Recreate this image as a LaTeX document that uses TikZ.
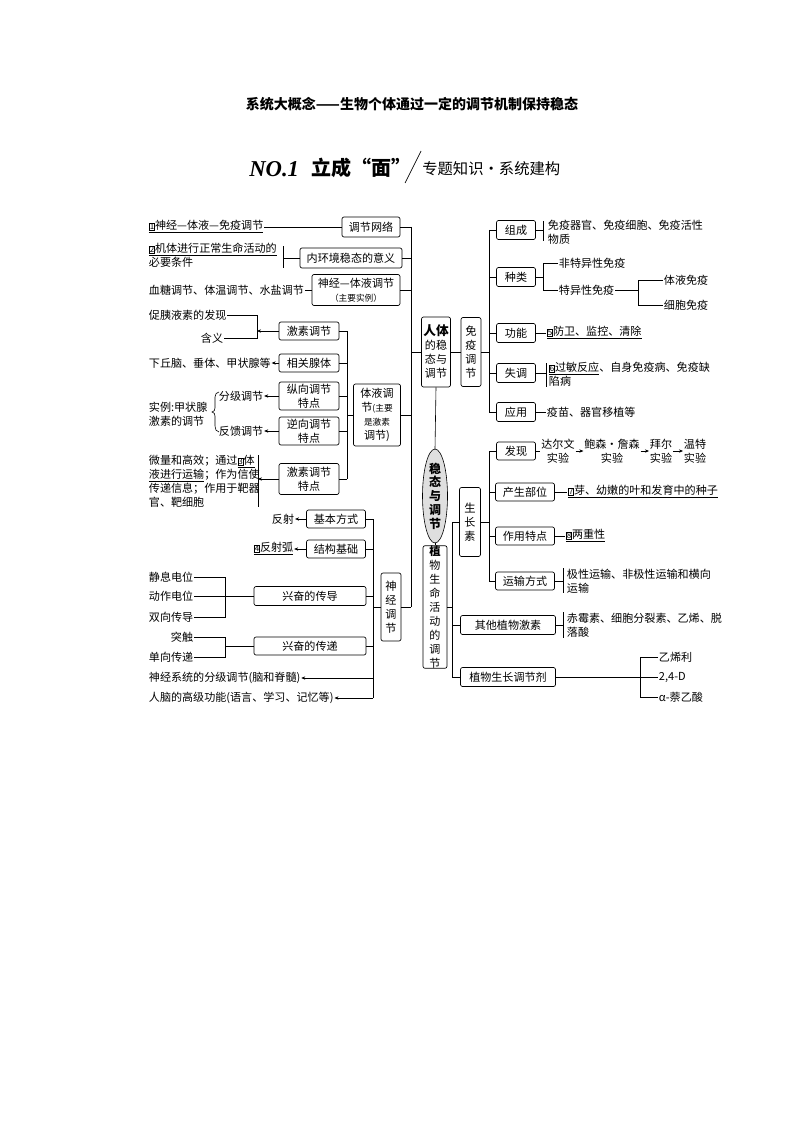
\documentclass[tikz,border=0pt]{standalone}
\usepackage{fontspec}
\setmainfont{Noto Sans CJK SC}
\newfontfamily\tnr{Liberation Serif}
\usetikzlibrary{arrows.meta,shapes.geometric}
\newdimen\px \px=0.75pt
\newcommand\fs{\fontsize{8.3}{10.5}\selectfont}
\newcommand\vtf{\fontsize{8.5}{9.7}\selectfont}
\newcommand\qn[1]{{\setlength\fboxsep{0.2pt}\setlength\fboxrule{0.4pt}\fbox{\fontsize{6}{6}\selectfont #1}}}
\newcommand\B[6]{\node[bx,minimum width=#4*\px,minimum height=#5*\px] (#1) at (#2,#3) {#6};}
\newcommand\T[4]{\node[tx] (#1) at (#2,#3) {#4};}
\tikzset{
 bx/.style={draw,rounded corners=1.5pt,inner sep=0pt,align=center,font=\fs,line width=0.5pt},
 tx/.style={inner sep=0.5pt,anchor=west,align=left,font=\fs},
 arr/.style={-{Stealth[length=3pt,width=2.5pt]}},
 ln/.style={line width=0.45pt},
}
\begin{document}
\begin{tikzpicture}[x=0.75pt,y=-0.75pt,ln]
\useasboundingbox[fill=white] (0,0) rectangle (794,1123);
% header
\node[font=\fontsize{10.5}{12}\selectfont\bfseries] (title) at (412,104) {系统大概念——生物个体通过一定的调节机制保持稳态};
\node[anchor=west,inner sep=0,font=\fontsize{17}{17}\selectfont\tnr\bfseries\itshape] (no) at (249,169) {NO.1};
\node[anchor=west,inner sep=0,font=\fontsize{15}{15}\selectfont\bfseries] (lc) at (311,168) {立成“面”};
\coordinate (s1) at (405,183); \coordinate (s2) at (421,151);
\draw[line width=0.5pt] (s1) -- (s2);
\node[anchor=west,inner sep=0,font=\fontsize{11.5}{12}\selectfont] (zt) at (422,169) {专题知识·系统建构};

% ===== left: human
\B{net}{371}{227}{58}{20}{调节网络}
\B{yiyi}{351}{258}{102}{20}{内环境稳态的意义}
\B{sjty}{356}{290}{88}{31}{神经—体液调节\\{\fontsize{6.5}{8}\selectfont（主要实例）}}
\B{ren}{436}{352}{29}{70}{\fontsize{9.5}{13}\selectfont\bfseries 人体\\的稳\\态与\\调节}
\B{tyt}{377}{415}{47}{62}{体液调\\节{\fontsize{6.5}{8}\selectfont(主要}\\{\fontsize{6.5}{8}\selectfont 是激素}\\调节)}
\B{jstj}{309}{331}{60}{18}{激素调节}
\B{xgxt}{309}{363}{60}{18}{相关腺体}
\B{zx}{309}{396}{60}{28}{纵向调节\\特点}
\B{nx}{309}{431}{60}{28}{逆向调节\\特点}
\B{jstd}{309}{479}{60}{31}{激素调节\\特点}
\B{sj}{391}{607}{20}{68}{\vtf 神\\经\\调\\节}
\B{jbfs}{336}{519}{59}{18}{基本方式}
\B{jgjc}{336}{549}{59}{18}{结构基础}
\B{cd}{310}{596}{112}{19}{兴奋的传导}
\B{cdi}{310}{646}{112}{18}{兴奋的传递}

\coordinate (tTop) at (411,227); \coordinate (tBot) at (411,607);
\draw (tTop) -- (tBot);
\foreach \n in {net,yiyi,sjty,sj} \draw (\n.east) -- (\n.east -| tTop);
\draw (ren.west) -- (ren.west -| tTop);
\draw (tyt.east) -- (tyt.east -| tTop);

\T{t1}{148}{227}{\underline{\qn{1}神经—体液—免疫调节}}
\draw (t1.east) -- (net.west);
\T{t2}{148}{255}{\underline{\qn{2}机体进行正常生命活动的}\\必要条件}
\coordinate (b2a) at (283,246); \coordinate (b2b) at (283,268);
\draw (b2a) -- (b2b);
\draw (yiyi.west) -- (yiyi.west -| b2a);
\T{t3}{148}{290}{血糖调节、体温调节、水盐调节}
\draw (t3.east) -- (sjty.west);

% inner humoral trunk
\coordinate (hTop) at (347,331); \coordinate (hBot) at (347,479);
\draw (hTop) -- (hBot);
\foreach \n in {jstj,xgxt,zx,nx,jstd} \draw (\n.east) -- (\n.east -| hTop);
\draw (tyt.west) -- (tyt.west -| hTop);

\T{cy}{148}{315}{促胰液素的发现}
\T{hy}{200}{338}{含义}
\coordinate (b4a) at (257,315); \coordinate (b4b) at (257,338);
\draw (cy.east) -- (b4a) -- (b4b) -- (hy.east);
\draw[arr] (jstj.west) -- (jstj.west -| b4a);
\T{xq}{148}{363}{下丘脑、垂体、甲状腺等}
\draw[arr] (xgxt.west) -- (xq.east);
\T{sl}{148}{414}{实例:甲状腺\\激素的调节}
\T{fj}{218}{396}{分级调节}
\T{fk}{218}{431}{反馈调节}
\draw (219,392) to[out=180,in=90] (215,397) -- (215,408) to[out=-90,in=0] (212,412) to[out=0,in=90] (215,416) -- (215,426) to[out=-90,in=180] (219,432);
\draw[arr] (zx.west) -- (fj.east);
\draw[arr] (nx.west) -- (fk.east);
\T{wl}{148}{481}{微量和高效；通过\underline{\qn{3}体}\\\underline{液进行运输}；作为信使\\传递信息；作用于靶器\\官、靶细胞}
\coordinate (b5a) at (258,455); \coordinate (b5b) at (258,507);
\draw (b5a) -- (b5b);
\draw[arr] (jstd.west) -- (jstd.west -| b5a);

% nerve
\coordinate (nTop) at (373,519); \coordinate (nBot) at (373,698);
\draw (nTop) -- (nBot);
\foreach \n in {jbfs,jgjc,cd,cdi} \draw (\n.east) -- (\n.east -| nTop);
\draw (sj.west) -- (sj.west -| nTop);
\T{fs}{271}{519}{反射}
\draw[arr] (jbfs.west) -- (fs.east);
\T{fsh}{253}{549}{\underline{\qn{4}反射弧}}
\draw[arr] (jgjc.west) -- (fsh.east);
\T{jx}{148}{577}{静息电位}
\T{dz}{148}{596}{动作电位}
\T{sx}{148}{617}{双向传导}
\coordinate (b6a) at (225,577); \coordinate (b6b) at (225,617);
\draw (jx.east) -- (b6a) -- (b6b) -- (sx.east);
\draw (dz.east) -- (cd.west);
\T{tc}{170}{637}{突触}
\T{dx}{148}{657}{单向传递}
\coordinate (b7a) at (225,637); \coordinate (b7b) at (225,657);
\draw (tc.east) -- (b7a) -- (b7b) -- (dx.east);
\draw (cdi.west) -- (cdi.west -| b7a);
\T{fjt}{148}{678}{神经系统的分级调节(脑和脊髓)}
\T{rn}{148}{698}{人脑的高级功能(语言、学习、记忆等)}
\draw[arr] (fjt.east -| nTop) -- (fjt.east);
\draw[arr] (nBot) -- (rn.east);

% center
\node[ellipse,draw,fill=gray!25,inner sep=0pt,minimum width=25*\px,minimum height=82*\px,align=center,font=\fontsize{9}{10.3}\selectfont\bfseries] (wt) at (435,496) {稳\\态\\与\\调\\节};
\B{zw}{435}{607}{24}{120}{\vtf\bfseries 植\\物\\生\\命\\活\\动\\的\\调\\节}
\draw (ren.south) -- (wt.north);
\draw (wt.south) -- (zw.north);

% immune
\B{my}{471}{352}{20}{69}{\vtf 免\\疫\\调\\节}
\draw (ren.east) -- (my.west);
\coordinate (mTop) at (489,230); \coordinate (mBot) at (489,412);
\draw (mTop) -- (mBot);
\draw (my.east) -- (my.east -| mTop);
\B{zc}{516}{230}{39}{19}{组成}
\B{zl}{516}{277}{39}{19}{种类}
\B{gn}{516}{333}{39}{19}{功能}
\B{st}{516}{373}{39}{19}{失调}
\B{yy}{516}{412}{39}{19}{应用}
\foreach \n in {zc,zl,gn,st,yy} \draw (\n.west) -- (\n.west -| mTop);
\T{zct}{547}{232}{免疫器官、免疫细胞、免疫活性\\物质}
\coordinate (b8a) at (543,221); \coordinate (b8b) at (543,241);
\draw (b8a) -- (b8b); \draw (zc.east) -- (zc.east -| b8a);
\T{ft}{558}{263}{非特异性免疫}
\T{tx1}{558}{290}{特异性免疫}
\coordinate (b9a) at (543,263); \coordinate (b9b) at (543,290);
\draw (ft.west) -- (b9a) -- (b9b) -- (tx1.west);
\draw (zl.east) -- (zl.east -| b9a);
\T{tym}{663}{280}{体液免疫}
\T{xbm}{663}{305}{细胞免疫}
\coordinate (b10a) at (638,280); \coordinate (b10b) at (638,305);
\draw (tym.west) -- (b10a) -- (b10b) -- (xbm.west);
\draw (tx1.east) -- (tx1.east -| b10a);
\T{gnt}{546}{333}{\underline{\qn{5}防卫、监控、清除}}
\draw (gn.east) -- (gnt.west);
\T{stt}{548}{374}{\underline{\qn{6}过敏反应}、自身免疫病、免疫缺\\陷病}
\coordinate (b11a) at (546,363); \coordinate (b11b) at (546,387);
\draw (b11a) -- (b11b); \draw (st.east) -- (st.east -| b11a);
\T{yyt}{546}{412}{疫苗、器官移植等}
\draw (yy.east) -- (yyt.west);

% plant
\coordinate (pTop) at (452,523); \coordinate (pBot) at (452,677);
\draw (pTop) -- (pBot);
\draw (zw.east) -- (zw.east -| pTop);
\B{szs}{470}{522}{21}{69}{\vtf 生\\长\\素}
\B{qt}{508}{625}{95}{19}{其他植物激素}
\B{tjj}{508}{677}{95}{19}{植物生长调节剂}
\foreach \n in {szs,qt,tjj} \draw (\n.west) -- (\n.west -| pTop);
\coordinate (gTop) at (489,451); \coordinate (gBot) at (489,581);
\draw (gTop) -- (gBot);
\draw (szs.east) -- (szs.east -| gTop);
\B{fx}{516}{451}{39}{18}{发现}
\B{cs}{525}{492}{59}{18}{产生部位}
\B{zy}{525}{536}{59}{18}{作用特点}
\B{ys}{525}{581}{59}{18}{运输方式}
\foreach \n in {fx,cs,zy,ys} \draw (\n.west) -- (\n.west -| gTop);
\node[tx,anchor=center,align=center] (d1) at (558,451) {达尔文\\实验};
\node[tx,anchor=center,align=center] (d2) at (612,451) {鲍森·詹森\\实验};
\node[tx,anchor=center,align=center] (d3) at (661,451) {拜尔\\实验};
\node[tx,anchor=center,align=center] (d4) at (695,451) {温特\\实验};
\draw (fx.east) -- (d1.west);
\draw[arr] (d1.east) -- (d2.west);
\draw[arr] (d2.east) -- (d3.west);
\draw[arr] (d3.east) -- (d4.west);
\T{cst}{567}{492}{\underline{\qn{7}芽、幼嫩的叶和发育中的种子}}
\draw (cs.east) -- (cst.west);
\T{zyt}{565}{536}{\underline{\qn{8}两重性}}
\draw (zy.east) -- (zyt.west);
\T{yst}{566}{581}{极性运输、非极性运输和横向\\运输}
\coordinate (b12a) at (563,568); \coordinate (b12b) at (563,593);
\draw (b12a) -- (b12b); \draw (ys.east) -- (ys.east -| b12a);
\T{qtt}{566}{625}{赤霉素、细胞分裂素、乙烯、脱\\落酸}
\coordinate (b13a) at (563,612); \coordinate (b13b) at (563,638);
\draw (b13a) -- (b13b); \draw (qt.east) -- (qt.east -| b13a);
\T{yx}{658}{657}{乙烯利}
\T{ds}{658}{677}{2,4-D}
\T{nx2}{658}{697}{α-萘乙酸}
\coordinate (b14a) at (640,657); \coordinate (b14b) at (640,697);
\draw (yx.west) -- (b14a) -- (b14b) -- (nx2.west);
\draw (tjj.east) -- (ds.west);
\end{tikzpicture}
\end{document}
